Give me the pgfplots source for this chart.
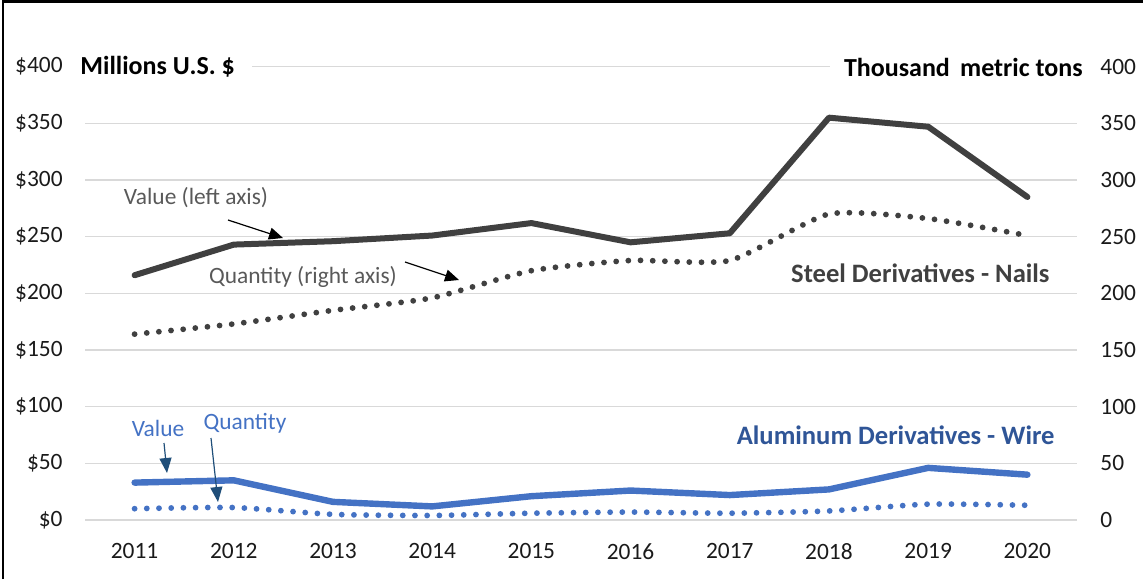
\documentclass[border=0pt]{standalone}
\usepackage{pgfplots}
\pgfplotsset{compat=1.18}
\usepackage{fontspec}
\setmainfont{Carlito}
\usetikzlibrary{arrows.meta}
\definecolor{steel}{HTML}{404040}
\definecolor{steeltxt}{HTML}{595959}
\definecolor{alu}{HTML}{4472C4}
\definecolor{alutitle}{HTML}{2F5597}
\definecolor{aluarrow}{HTML}{1F4E79}
\definecolor{grid}{HTML}{D9D9D9}
\definecolor{tick}{HTML}{1A1A1A}
\begin{document}
\fontsize{11.7}{14}\selectfont
\begin{tikzpicture}
\begin{axis}[
  at={(42.5pt,29.5pt)}, anchor=south west,
  scale only axis, width=496pt, height=226.67pt,
  xmin=2010.5, xmax=2020.5, ymin=0, ymax=400,
  axis line style={draw=none},
  major tick length=0pt,
  xtick={2011,...,2020},
  xticklabels={2011,2012,2013,2014,2015,2016,2017,2018,2019,2020},
  ytick={0,50,...,400},
  yticklabels={\$0,\$50,\$100,\$150,\$200,\$250,\$300,\$350,\$400},
  yticklabel style={anchor=east, inner sep=0pt, xshift=-11pt, text=tick},
  xticklabel style={anchor=north, inner sep=0pt, yshift=-11.5pt, text=tick},
  ymajorgrids, grid style={draw=grid, line width=0.75pt},
  /pgf/number format/assume math mode=true,
  clip=false,
]
% Steel value
\addplot[steel, line width=3pt, line join=round, line cap=round] coordinates {
(2011,216) (2012,243) (2013,246) (2014,251) (2015,262) (2016,245) (2017,253) (2018,355) (2019,347) (2020,285)};
% Aluminum value
\addplot[alu, line width=3.2pt, line join=round, line cap=round] coordinates {
(2011,33) (2012,35) (2013,16) (2014,12) (2015,21) (2016,26) (2017,22) (2018,27) (2019,46) (2020,40)};
\end{axis}
\begin{axis}[
  at={(42.5pt,29.5pt)}, anchor=south west,
  scale only axis, width=496pt, height=226.67pt,
  xmin=2010.5, xmax=2020.5, ymin=0, ymax=400,
  axis line style={draw=none},
  major tick length=0pt,
  xtick=\empty,
  ytick={0,50,...,400},
  axis y line*=right,
  axis x line=none,
  yticklabel style={anchor=west, inner sep=0pt, xshift=11.5pt, text=tick},
  /pgf/number format/assume math mode=true,
  clip=false,
]
% Steel quantity
\addplot[steel, line width=2.9pt, line cap=round, dash pattern=on 0pt off 6.1pt, smooth, tension=0.35] coordinates {
(2011,164) (2012,173) (2013,185) (2014,196) (2015,220) (2016,229) (2017,229) (2018,270) (2019,266) (2020,251)};
% Aluminum quantity
\addplot[alu, line width=2.9pt, line cap=round, dash pattern=on 0pt off 6.1pt, smooth, tension=0.35] coordinates {
(2011,10) (2012,11) (2013,5) (2014,4) (2015,6) (2016,7) (2017,6) (2018,8) (2019,14) (2020,13)};
\end{axis}
\begin{scope}[x=0.5pt,y=0.5pt]
\useasboundingbox (0,0) rectangle (1143,579);
\draw[line width=1.1pt] (2.7,0) -- (2.7,577.5) -- (1143,577.5);
% Axis titles with white background hiding the top gridline
\fill[white] (82,504) rectangle (252,520);
\node[anchor=west, inner xsep=0pt, font=\fontsize{13}{15}\selectfont\bfseries, text=black] at (80,512) {Millions U.S. \$};
\fill[white] (830,504) rectangle (1080,520);
\node[anchor=east, inner xsep=0pt, font=\fontsize{13}{15}\selectfont\bfseries, text=black] at (1083,512) {Thousand\, metric tons};
% Steel annotations
\node[text=steeltxt] at (196,381) {Value (left axis)};
\draw[line width=0.6pt, -{Triangle[length=7pt,width=6pt]}] (228,359) -- (283,341);
\node[text=steeltxt] at (303,302) {Quantity (right axis)};
\draw[line width=0.6pt, -{Triangle[length=7pt,width=6pt]}] (405,317) -- (459,299);
\node[anchor=east, inner xsep=0pt, font=\fontsize{13.3}{15}\selectfont\bfseries, text=steel] at (1050,306) {Steel Derivatives - Nails};
% Aluminum annotations
\node[anchor=east, inner xsep=0pt, font=\fontsize{13.3}{15}\selectfont\bfseries, text=alutitle] at (1055,144) {Aluminum Derivatives - Wire};
\node[text=alu] at (158,151) {Value};
\node[text=alu] at (245,156) {Quantity};
\draw[aluarrow, line width=0.6pt, -{Triangle[length=7.5pt,width=6pt]}] (164,136) -- (167,106);
\draw[aluarrow, line width=0.6pt, -{Triangle[length=7.5pt,width=6pt]}] (211,141) -- (218,77);
\end{scope}
\end{tikzpicture}
\end{document}
